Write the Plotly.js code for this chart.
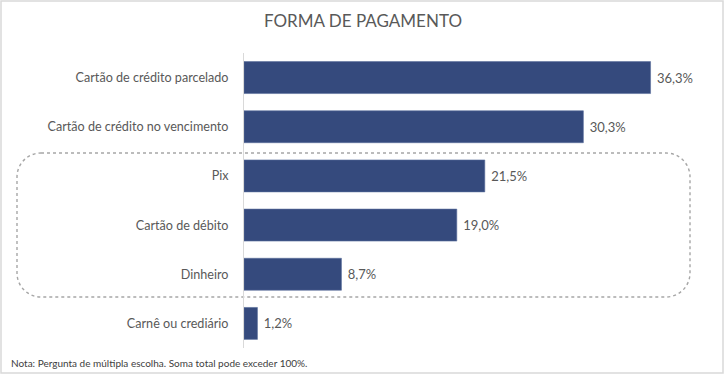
<!DOCTYPE html>
<html>
<head>
<meta charset="utf-8">
<script src="https://cdn.plot.ly/plotly-3.0.1.min.js"></script>
<style>html,body{margin:0;padding:0;background:#fff;}#chart{width:726px;height:382px;}</style>
</head>
<body>
<div id="chart"></div>
<script>
var categories = ["Cartão de crédito parcelado", "Cartão de crédito no vencimento", "Pix", "Cartão de débito", "Dinheiro", "Carnê ou crediário"];
var values = [36.3, 30.3, 21.5, 19.0, 8.7, 1.2];
var titleText = "FORMA DE PAGAMENTO";
var noteText = "Nota: Pergunta de múltipla escolha. Soma total pode exceder 100%.";

var W = 726, H = 382;
var M = {l: 244, r: 34, t: 53, b: 34};
var PW = W - M.l - M.r, PH = H - M.t - M.b;
function px(x) { return (x - M.l) / PW; }
function py(y) { return (H - M.b - y) / PH; }

// rounded dotted rectangle path (paper coords)
function roundRect(x0, y0, x1, y1, r) {
  var k = 0.5523 * r;
  function P(x, y) { return px(x).toFixed(5) + ',' + py(y).toFixed(5); }
  return 'M' + P(x0 + r, y0) +
    ' L' + P(x1 - r, y0) +
    ' C' + P(x1 - r + k, y0) + ' ' + P(x1, y0 + r - k) + ' ' + P(x1, y0 + r) +
    ' L' + P(x1, y1 - r) +
    ' C' + P(x1, y1 - r + k) + ' ' + P(x1 - r + k, y1) + ' ' + P(x1 - r, y1) +
    ' L' + P(x0 + r, y1) +
    ' C' + P(x0 + r - k, y1) + ' ' + P(x0, y1 - r + k) + ' ' + P(x0, y1 - r) +
    ' L' + P(x0, y0 + r) +
    ' C' + P(x0, y0 + r - k) + ' ' + P(x0 + r - k, y0) + ' ' + P(x0 + r, y0) + ' Z';
}

var FONT = 'Lato, "Open Sans", sans-serif';

var trace = {
  type: 'bar',
  orientation: 'h',
  y: categories,
  x: values,
  marker: {color: '#354A7D', line: {color: '#5a6e9c', width: 0.6}},
  texttemplate: '\u00a0%{x:.1f}%',
  textposition: 'outside',
  cliponaxis: false,
  textfont: {family: FONT, size: 13, color: '#595959'},
  hoverinfo: 'none'
};

var layout = {
  width: W, height: H,
  margin: M,
  separators: ',.',
  paper_bgcolor: '#ffffff',
  plot_bgcolor: '#ffffff',
  showlegend: false,
  bargap: 0.35,
  font: {family: FONT, color: '#595959'},
  title: {text: titleText, x: 0.5, xref: 'container', xanchor: 'center', y: 1 - 21 / H, yref: 'container', yanchor: 'middle',
          font: {family: FONT, size: 17, color: '#595959'}},
  xaxis: {range: [0, 40], visible: false, showgrid: false, zeroline: false, fixedrange: true},
  yaxis: {autorange: 'reversed', showline: true, linecolor: '#d9d9d9', linewidth: 1, ticks: '', showgrid: false,
          ticklabelstandoff: 12, tickfont: {family: FONT, size: 12.6, color: '#595959'}, fixedrange: true},
  shapes: [
    {type: 'rect', xref: 'paper', yref: 'paper', x0: px(1), x1: px(723), y0: py(1), y1: py(373),
     line: {color: '#d9d9d9', width: 1.5}, layer: 'below'},
    {type: 'path', xref: 'paper', yref: 'paper', path: roundRect(17, 153, 690, 297, 24),
     line: {color: '#a6a6a6', width: 1.4, dash: 'dot'}, layer: 'below'}
  ],
  annotations: [
    {text: noteText, xref: 'paper', yref: 'paper', x: px(9), y: py(363), xanchor: 'left', yanchor: 'middle',
     showarrow: false, font: {family: FONT, size: 10, color: '#404040'}}
  ]
};

Plotly.newPlot('chart', [trace], layout, {displayModeBar: false, staticPlot: true});
</script>
</body>
</html>
